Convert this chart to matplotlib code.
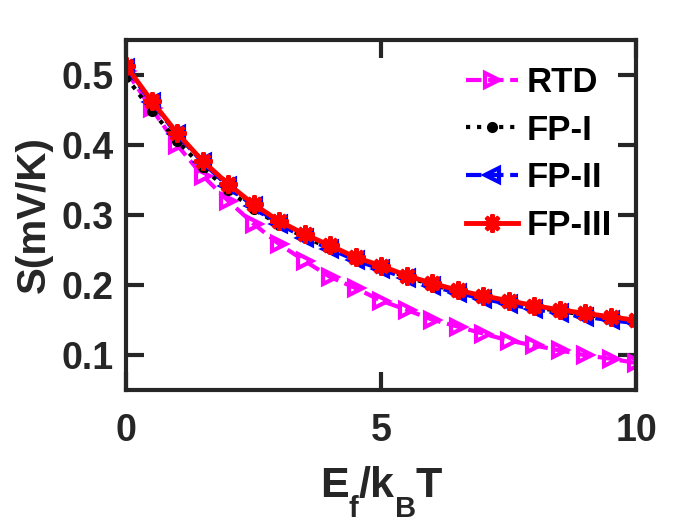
import matplotlib
matplotlib.use('Agg')
import matplotlib.pyplot as plt

plt.rcParams['font.family'] = ['Liberation Sans', 'DejaVu Sans']
plt.rcParams['font.weight'] = 'bold'

# E_f/k_BT
x = [0, 0.5, 1, 1.5, 2, 2.5, 3, 3.5, 4, 4.5, 5,
     5.5, 6, 6.5, 7, 7.5, 8, 8.5, 9, 9.5, 10]

rtd = [0.506, 0.452, 0.400, 0.356, 0.320, 0.287, 0.258, 0.234, 0.211, 0.195, 0.177,
       0.164, 0.150, 0.140, 0.130, 0.120, 0.113, 0.106, 0.099, 0.094, 0.088]
fp1 = [0.497, 0.449, 0.406, 0.368, 0.335, 0.308, 0.286, 0.268, 0.252, 0.237, 0.224,
       0.211, 0.200, 0.190, 0.182, 0.175, 0.168, 0.162, 0.157, 0.152, 0.148]
fp2 = [0.510, 0.461, 0.415, 0.375, 0.341, 0.312, 0.287, 0.267, 0.251, 0.235, 0.222,
       0.209, 0.198, 0.188, 0.180, 0.172, 0.165, 0.159, 0.154, 0.149, 0.145]
fp3 = [0.513, 0.463, 0.417, 0.377, 0.344, 0.315, 0.291, 0.272, 0.256, 0.239, 0.227,
       0.213, 0.202, 0.192, 0.184, 0.177, 0.170, 0.164, 0.159, 0.154, 0.149]

# x label pieces: (text, size, subscript?)
xlab = [('E', 31, False), ('f', 21, True), ('/k', 31, False), ('B', 21, True), ('T', 31, False)]

fig = plt.figure(figsize=(7, 5.25), dpi=100)
ax = fig.add_axes([0.18, 0.258, 0.729, 0.666])

ax.plot(x, rtd, '--', color='magenta', lw=3, marker='>', ms=10, mew=3,
        mfc='none', label='RTD')
ax.plot(x, fp1, ':', color='black', lw=3, marker='o', ms=6, mew=2,
        mfc='black', label='FP-I')
ax.plot(x, fp2, '--', color='blue', lw=3, marker='<', ms=10, mew=3,
        mfc='none', label='FP-II')
ax.plot(x, fp3, '-', color='red', lw=3.5, marker=(8, 2, 0), ms=13, mew=3,
        label='FP-III')

ax.set_xlim(0, 10)
ax.set_ylim(0.05, 0.55)
ax.set_xticks([0, 5, 10])
ax.set_yticks([0.1, 0.2, 0.3, 0.4, 0.5])

axcol = '#262626'
for s in ax.spines.values():
    s.set_linewidth(3)
    s.set_color(axcol)
ax.tick_params(direction='in', length=13, width=3, colors=axcol,
               top=True, right=True, labelsize=27)
ax.tick_params(axis='x', pad=17)
ax.tick_params(axis='y', pad=9)
for lab in ax.get_xticklabels() + ax.get_yticklabels():
    lab.set_fontweight('bold')

ax.set_ylabel('S(mV/K)', fontsize=29, fontweight='bold', color=axcol, labelpad=6)

# build E_f/k_BT label by hand so the subscripts sit low like the original
fig.canvas.draw()
r = fig.canvas.get_renderer()
widths = []
for txt, sz, sub in xlab:
    t = fig.text(0, 0, txt, fontsize=sz, fontweight='bold', color=axcol)
    widths.append(t.get_window_extent(r).width / fig.bbox.width)
    t.remove()
cx = (0.18 + 0.18 + 0.729) / 2
xpos = cx - sum(widths) / 2
for (txt, sz, sub), w in zip(xlab, widths):
    ypos = 0.015 if sub else 0.053
    fig.text(xpos, ypos, txt, fontsize=sz, fontweight='bold', color=axcol,
             va='baseline')
    xpos += w

leg = ax.legend(loc='upper right', frameon=False, fontsize=25, handlelength=1.5,
                handletextpad=0.25, labelspacing=0.42, borderaxespad=0.3,
                bbox_to_anchor=(1.0, 0.995))
for t in leg.get_texts():
    t.set_fontweight('bold')

fig.savefig('out.png', dpi=100)
